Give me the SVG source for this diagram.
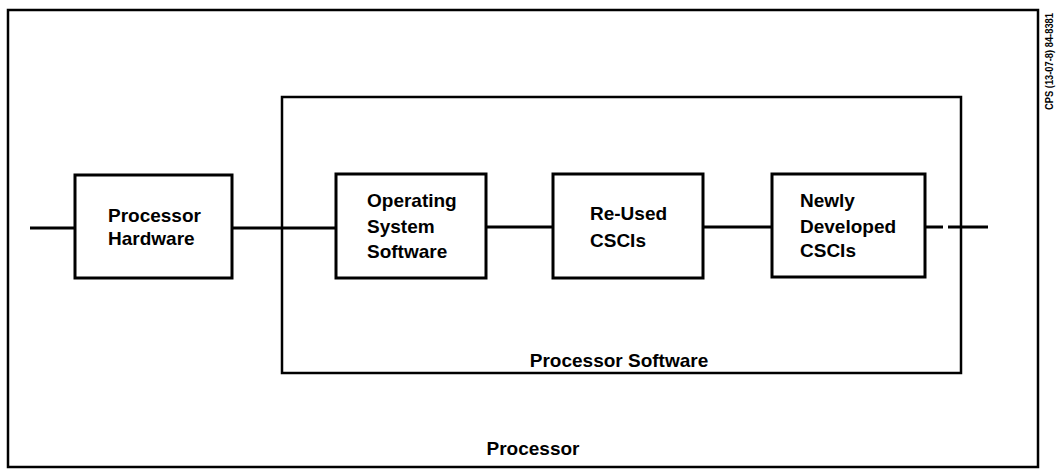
<svg xmlns="http://www.w3.org/2000/svg" width="1057" height="472" viewBox="0 0 1057 472">
<style>
.frame{fill:none;stroke:#000;stroke-width:2.5}
.box{fill:#fff;stroke:#000;stroke-width:3}
.conn{stroke:#000;stroke-width:3;fill:none}
text{font-family:"Liberation Sans",Arial,sans-serif;font-weight:bold;font-size:19px;fill:#000}
.side{font-size:10.5px}
</style>
<rect width="1057" height="472" fill="#fff"/>
<g id="processor">
<rect class="frame" x="8" y="10" width="1030" height="457"/>
<text x="533" y="455" text-anchor="middle">Processor</text>
</g>
<g id="processor-software">
<rect class="frame" x="282" y="97" width="679" height="276"/>
<text x="619" y="367" text-anchor="middle">Processor Software</text>
</g>
<g id="connectors">
<line class="conn" x1="30" y1="228" x2="75" y2="228"/>
<line class="conn" x1="232" y1="228" x2="336" y2="228"/>
<line class="conn" x1="486" y1="227" x2="553" y2="227"/>
<line class="conn" x1="703" y1="227" x2="772" y2="227"/>
<line class="conn" x1="925" y1="227" x2="943" y2="227"/>
<line class="conn" x1="948" y1="227" x2="988" y2="227"/>
</g>
<g id="processor-hardware">
<rect class="box" x="75" y="175" width="157" height="103"/>
<text x="108" y="222">Processor</text>
<text x="108" y="245">Hardware</text>
</g>
<g id="operating-system-software">
<rect class="box" x="336" y="174" width="150" height="104"/>
<text x="367" y="207">Operating</text>
<text x="367" y="233">System</text>
<text x="367" y="258">Software</text>
</g>
<g id="re-used-cscis">
<rect class="box" x="553" y="174" width="150" height="104"/>
<text x="590" y="220">Re-Used</text>
<text x="590" y="247">CSCIs</text>
</g>
<g id="newly-developed-cscis">
<rect class="box" x="772" y="174" width="153" height="103"/>
<text x="800" y="207">Newly</text>
<text x="800" y="233">Developed</text>
<text x="800" y="257">CSCIs</text>
</g>
<g id="figure-id">
<text class="side" transform="translate(1053,110) rotate(-90)" textLength="97" lengthAdjust="spacingAndGlyphs">CPS (13-07-8) 84-8381</text>
</g>
</svg>
